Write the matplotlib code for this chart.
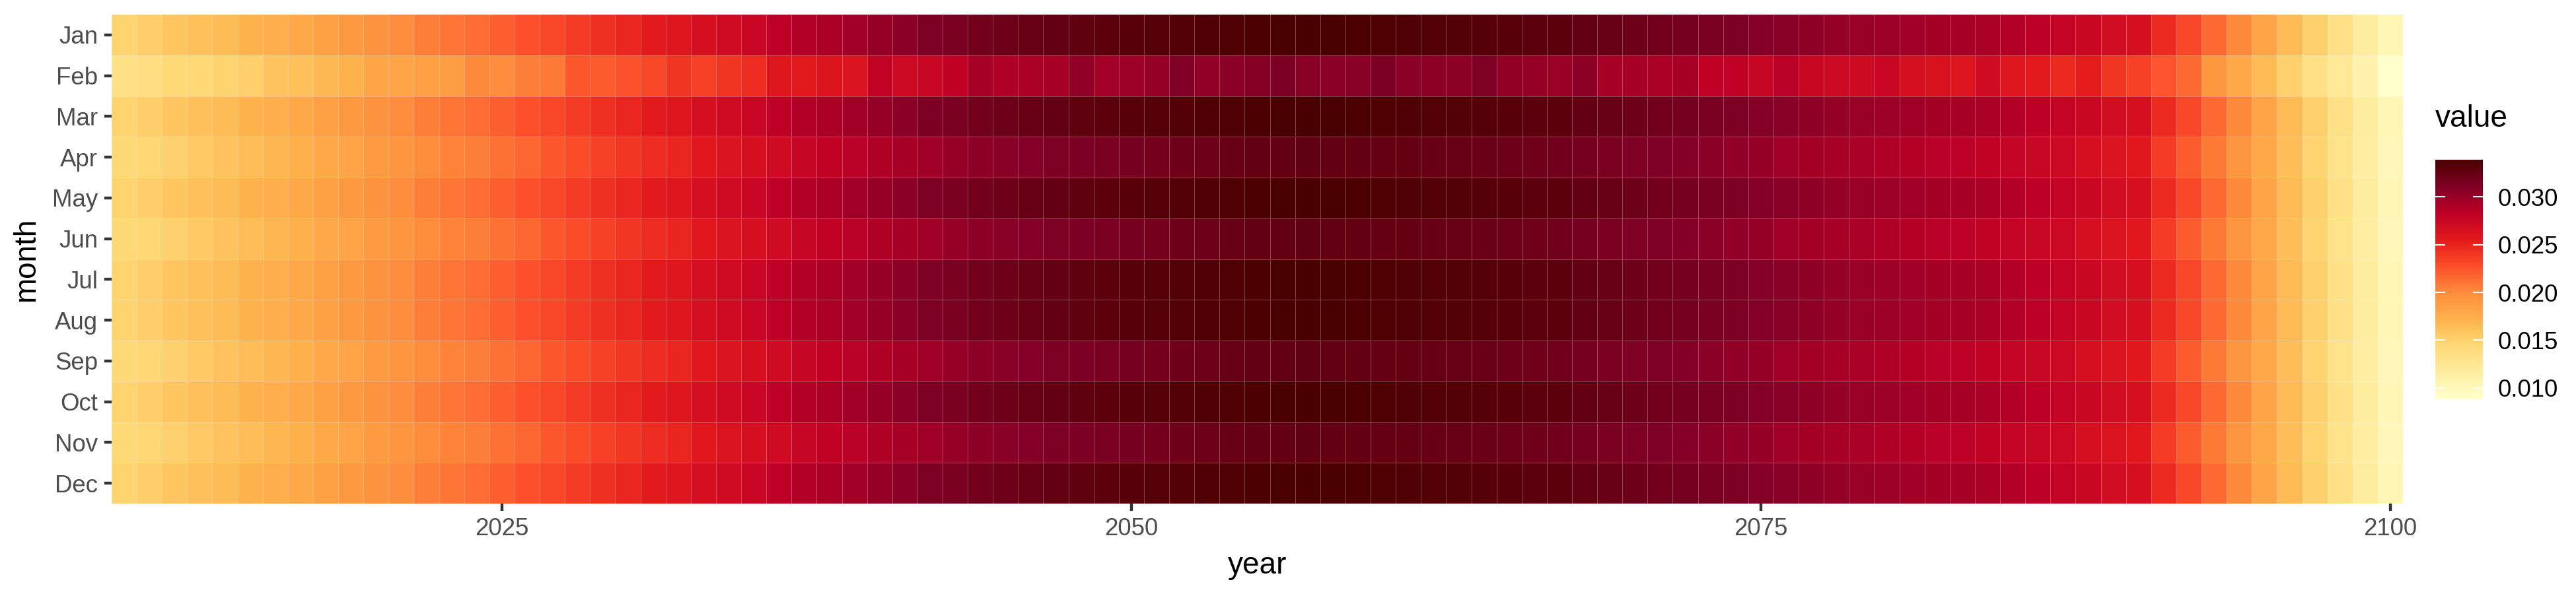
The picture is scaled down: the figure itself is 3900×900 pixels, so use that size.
import numpy as np
import matplotlib
matplotlib.use("Agg")
import matplotlib.pyplot as plt
from matplotlib.colors import LinearSegmentedColormap, Normalize
from matplotlib.cm import ScalarMappable

plt.rcParams['font.family'] = ['Liberation Sans', 'DejaVu Sans']

years = np.arange(2010, 2101)
months = ["Jan", "Feb", "Mar", "Apr", "May", "Jun",
          "Jul", "Aug", "Sep", "Oct", "Nov", "Dec"]

# rows: 31-day months share one profile,
# 30-day months another, February its own (leap years stand out)
long_month = [
    0.0147, 0.0152, 0.0158, 0.0162, 0.0165, 0.0172, 0.0175, 0.0180, 0.0185, 0.0190,
    0.0195, 0.0200, 0.0206, 0.0210, 0.0214, 0.0220, 0.0227, 0.0232, 0.0238, 0.0243,
    0.0249, 0.0255, 0.0259, 0.0266, 0.0271, 0.0276, 0.0283, 0.0288, 0.0291, 0.0296,
    0.0300, 0.0306, 0.0312, 0.0314, 0.0318, 0.0321, 0.0323, 0.0326, 0.0328, 0.0330,
    0.0332, 0.0333, 0.0335, 0.0336, 0.0337, 0.0338, 0.0339, 0.0339, 0.0339, 0.0338,
    0.0337, 0.0336, 0.0335, 0.0334, 0.0333, 0.0332, 0.0330, 0.0329, 0.0326, 0.0323,
    0.0321, 0.0318, 0.0316, 0.0314, 0.0312, 0.0309, 0.0307, 0.0304, 0.0301, 0.0299,
    0.0297, 0.0296, 0.0294, 0.0293, 0.0291, 0.0288, 0.0284, 0.0279, 0.0275, 0.0269,
    0.0266, 0.0246, 0.0232, 0.0215, 0.0201, 0.0183, 0.0166, 0.0150, 0.0134, 0.0117, 0.0102,
]
short_month = [
    0.0144, 0.0146, 0.0150, 0.0155, 0.0160, 0.0164, 0.0169, 0.0173, 0.0180, 0.0183,
    0.0189, 0.0193, 0.0199, 0.0204, 0.0206, 0.0212, 0.0217, 0.0224, 0.0229, 0.0235,
    0.0239, 0.0245, 0.0249, 0.0257, 0.0262, 0.0267, 0.0271, 0.0277, 0.0281, 0.0285,
    0.0289, 0.0293, 0.0296, 0.0300, 0.0305, 0.0307, 0.0309, 0.0312, 0.0313, 0.0314,
    0.0316, 0.0317, 0.0320, 0.0321, 0.0324, 0.0326, 0.0326, 0.0327, 0.0326, 0.0326,
    0.0325, 0.0325, 0.0324, 0.0323, 0.0322, 0.0321, 0.0320, 0.0319, 0.0316, 0.0314,
    0.0312, 0.0311, 0.0309, 0.0306, 0.0303, 0.0300, 0.0296, 0.0294, 0.0293, 0.0292,
    0.0289, 0.0287, 0.0285, 0.0284, 0.0281, 0.0279, 0.0276, 0.0273, 0.0267, 0.0262,
    0.0257, 0.0238, 0.0222, 0.0208, 0.0193, 0.0180, 0.0164, 0.0148, 0.0131, 0.0115, 0.0100,
]
feb = [
    0.0134, 0.0137, 0.0144, 0.0144, 0.0147, 0.0151, 0.0160, 0.0162, 0.0168, 0.0172,
    0.0181, 0.0183, 0.0185, 0.0187, 0.0201, 0.0200, 0.0206, 0.0208, 0.0224, 0.0222,
    0.0226, 0.0232, 0.0240, 0.0235, 0.0240, 0.0245, 0.0259, 0.0256, 0.0261, 0.0262,
    0.0280, 0.0273, 0.0276, 0.0282, 0.0293, 0.0289, 0.0291, 0.0293, 0.0303, 0.0295,
    0.0297, 0.0300, 0.0310, 0.0303, 0.0306, 0.0308, 0.0313, 0.0307, 0.0306, 0.0307,
    0.0313, 0.0306, 0.0305, 0.0305, 0.0312, 0.0302, 0.0300, 0.0299, 0.0305, 0.0293,
    0.0293, 0.0291, 0.0293, 0.0282, 0.0282, 0.0277, 0.0285, 0.0275, 0.0273, 0.0272,
    0.0276, 0.0266, 0.0264, 0.0260, 0.0271, 0.0259, 0.0256, 0.0247, 0.0254, 0.0240,
    0.0235, 0.0225, 0.0215, 0.0192, 0.0180, 0.0166, 0.0150, 0.0134, 0.0123, 0.0108, 0.0088,
]
month_kind = ["long", "feb", "long", "short", "long", "short",
              "long", "long", "short", "long", "short", "long"]

rows = {"long": long_month, "short": short_month, "feb": feb}
values = np.array([rows[k] for k in month_kind])

palette = ["#ffffcc", "#ffeda0", "#fed976", "#feb24c", "#fd8d3c",
           "#fc4e2a", "#e31a1c", "#bd0026", "#800026", "#4a0000"]
cmap = LinearSegmentedColormap.from_list("ylorrd_dark", palette)
norm = Normalize(vmin=values.min(), vmax=values.max())

W, H = 3900, 900
fig = plt.figure(figsize=(13, 3), dpi=300)

# panel
x0, x1, y_top, y_bot = 169, 3638, 22, 763
ax = fig.add_axes([x0 / W, 1 - y_bot / H, (x1 - x0) / W, (y_bot - y_top) / H])
x_edges = np.append(years - 0.5, years[-1] + 0.5)
y_edges = np.arange(len(months) + 1) - 0.5
ax.pcolormesh(x_edges, y_edges, values, cmap=cmap, norm=norm,
              edgecolors=(1, 1, 1, 0.28), linewidth=0.2)
ax.set_xlim(x_edges[0], x_edges[-1])
ax.set_ylim(y_edges[-1], y_edges[0])
ax.set_xticks([2025, 2050, 2075, 2100])
ax.set_yticks(range(len(months)))
ax.set_yticklabels(months)
for s in ax.spines.values():
    s.set_visible(False)
ax.tick_params(length=11.5 * 72 / 300, width=1.05, color="#333333",
               labelsize=8.8, labelcolor="#4D4D4D", pad=2.2)

fig.text(1904 / W, 1 - 857 / H, "year", ha="center", va="center", fontsize=11)
fig.text(40 / W, 1 - 393 / H, "month", ha="center", va="center",
         rotation=90, fontsize=11)

# colour bar legend
bx, bw, b_top, b_bot = 3687, 72, 242, 605
cax = fig.add_axes([bx / W, 1 - b_bot / H, bw / W, (b_bot - b_top) / H])
cb = fig.colorbar(ScalarMappable(norm=norm, cmap=cmap), cax=cax)
cb.outline.set_visible(False)
legend_ticks = [0.010, 0.015, 0.020, 0.025, 0.030]
cb.set_ticks(legend_ticks)
cb.set_ticklabels([f"{t:.3f}" for t in legend_ticks])
cax.tick_params(length=0, pad=5.5, labelsize=8.8, labelcolor="black")
tr = cax.get_yaxis_transform()
for t in legend_ticks:
    cax.plot([0, 0.2], [t, t], transform=tr, color="white", lw=0.5)
    cax.plot([0.8, 1], [t, t], transform=tr, color="white", lw=0.5)
fig.text(bx / W, 1 - 180 / H, "value", ha="left", va="center", fontsize=11)

fig.savefig("out.png", dpi=300, facecolor="white")
